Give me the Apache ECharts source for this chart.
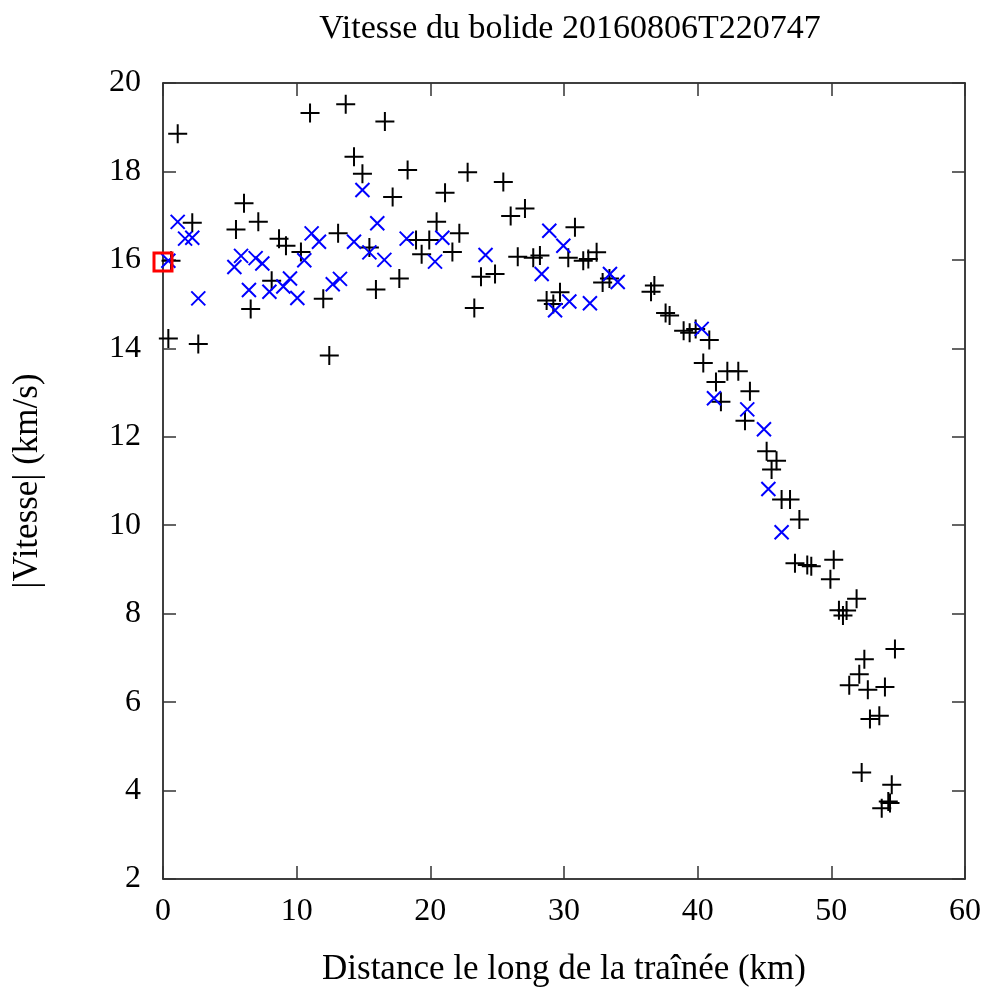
<!DOCTYPE html>
<html>
<head>
<meta charset="utf-8">
<script src="https://cdn.jsdelivr.net/npm/echarts@6/dist/echarts.min.js"></script>
<style>
html,body{margin:0;padding:0;background:#fff;}
#chart{width:984px;height:992px;}
</style>
</head>
<body>
<div id="chart"></div>
<script>
const titleText = "Vitesse du bolide 20160806T220747";
const xName = "Distance le long de la traînée (km)";
const yName = "|Vitesse| (km/s)";
const xTicks = [0, 10, 20, 30, 40, 50, 60];
const yTicks = [2, 4, 6, 8, 10, 12, 14, 16, 18, 20];

// black "+" points [distance km, speed km/s]
const plusPoints = [
  [1.10,18.85],[2.19,16.84],[0.40,14.22],[2.64,14.10],[0.60,15.98],
  [6.06,17.28],[5.46,16.69],[7.13,16.86],[6.56,14.89],[8.13,15.53],[8.68,16.48],[9.20,16.32],
  [10.32,16.18],[13.10,16.60],[11.99,15.12],[12.44,13.84],[11.00,19.32],[13.67,19.52],[14.29,18.33],[14.92,17.95],
  [16.60,19.13],[18.30,18.03],[17.18,17.42],[22.79,17.98],[25.46,17.76],[21.10,17.52],[27.08,17.16],[26.01,16.99],
  [20.47,16.86],[15.44,16.28],[18.93,16.45],[19.92,16.45],[22.17,16.60],[19.35,16.13],[21.65,16.18],[17.68,15.58],
  [15.93,15.33],[23.79,15.62],[24.84,15.68],[26.54,16.07],[23.29,14.91],
  [30.82,16.74],[27.70,16.05],[28.20,16.10],[30.32,16.05],[31.44,15.98],[31.82,16.02],[32.44,16.17],[33.40,15.58],
  [32.89,15.49],[29.70,15.27],[28.70,15.08],[29.20,15.00],
  [36.76,15.42],[36.51,15.28],[37.60,14.80],[37.90,14.74],[38.95,14.40],[39.40,14.35],[39.85,14.44],[40.87,14.19],
  [40.42,13.67],[42.22,13.48],[43.04,13.48],[41.37,13.24],[43.91,13.03],[41.74,12.79],[43.54,12.36],[45.16,11.67],
  [45.90,11.46],[45.53,11.26],[46.28,10.58],[46.91,10.58],[47.61,10.13],[47.28,9.14],[48.20,9.10],[48.50,9.07],
  [50.18,9.22],[49.93,8.78],
  [51.89,8.34],[50.57,8.08],[50.87,7.96],[51.14,8.07],[54.76,7.20],[52.47,6.97],[52.09,6.63],[51.34,6.38],
  [52.73,6.28],[54.01,6.34],[52.89,5.62],[53.59,5.69],[52.27,4.41],[54.52,4.13],[54.26,3.75],[53.77,3.60],[54.39,3.72]
];

// blue "x" points
const crossPoints = [
  [1.10,16.86],[1.65,16.48],[2.19,16.50],[2.64,15.13],[0.40,15.98],[5.84,16.09],[5.34,15.84],[6.43,15.32],
  [6.93,16.04],[7.43,15.92],[7.96,15.28],[9.00,15.40],[9.50,15.58],[10.05,15.14],[10.57,15.99],[11.12,16.60],
  [11.67,16.41],[12.70,15.45],[13.24,15.57],[14.92,17.58],[14.29,16.41],[15.44,16.17],[16.03,16.83],[16.56,16.00],
  [18.23,16.48],[20.90,16.50],[20.35,15.96],[24.13,16.11],[28.90,16.66],[29.95,16.32],[28.33,15.68],[29.33,14.86],
  [30.40,15.06],[31.94,15.02],[33.44,15.68],[34.02,15.50],[40.30,14.44],[41.22,12.87],[43.71,12.62],[44.96,12.17],
  [45.29,10.82],[46.28,9.84]
];

// red square point
const startPoint = [[0, 15.95]];

const FONT = "Liberation Serif";
const chart = echarts.init(document.getElementById('chart'), null, {renderer: 'canvas'});

const xMin = xTicks[0], xMax = xTicks[xTicks.length-1], xStep = xTicks[1]-xTicks[0];
const yMin = yTicks[0], yMax = yTicks[yTicks.length-1], yStep = yTicks[1]-yTicks[0];

const baseAxisX = {
  type: 'value', min: xMin, max: xMax, interval: xStep,
  splitLine: {show: false},
  axisLine: {show: true, onZero: false, lineStyle: {color: '#000', width: 1.5}},
  axisTick: {show: true, inside: true, length: 13, lineStyle: {color: '#333', width: 1.5}},
};
const baseAxisY = {
  type: 'value', min: yMin, max: yMax, interval: yStep,
  splitLine: {show: false},
  axisLine: {show: true, onZero: false, lineStyle: {color: '#000', width: 1.5}},
  axisTick: {show: true, inside: true, length: 13, lineStyle: {color: '#333', width: 1.5}},
};

chart.setOption({
  animation: false,
  backgroundColor: '#fff',
  title: {
    text: titleText, left: 565, top: 7, textAlign: 'center',
    textStyle: {fontFamily: FONT, fontSize: 34, fontWeight: 'normal', color: '#000'}
  },
  grid: {left: 163, right: 19, top: 83, bottom: 109, containLabel: false},
  xAxis: [
    Object.assign({}, baseAxisX, {
      position: 'bottom',
      name: xName, nameLocation: 'middle', nameGap: 73,
      nameTextStyle: {fontFamily: FONT, fontSize: 35, color: '#000'},
      axisLabel: {show: true, margin: 17, fontFamily: FONT, fontSize: 32, color: '#000'}
    }),
    Object.assign({}, baseAxisX, {position: 'top', axisLabel: {show: false}})
  ],
  yAxis: [
    Object.assign({}, baseAxisY, {
      position: 'left',
      name: yName, nameLocation: 'middle', nameGap: 118, nameRotate: 90,
      nameTextStyle: {fontFamily: FONT, fontSize: 35, color: '#000'},
      axisLabel: {show: true, margin: 22, fontFamily: FONT, fontSize: 32, color: '#000'}
    }),
    Object.assign({}, baseAxisY, {position: 'right', axisLabel: {show: false}})
  ],
  series: [
    {
      type: 'scatter', data: plusPoints,
      symbol: 'path://M-1,0L1,0M0,-1L0,1', symbolSize: 19,
      itemStyle: {color: 'none', borderColor: '#000', borderWidth: 2, opacity: 1},
      emphasis: {disabled: true}
    },
    {
      type: 'scatter', data: crossPoints,
      symbol: 'path://M-1,-1L1,1M-1,1L1,-1', symbolSize: 14,
      itemStyle: {color: 'none', borderColor: '#0000ff', borderWidth: 2, opacity: 1},
      emphasis: {disabled: true}
    },
    {
      type: 'scatter', data: startPoint,
      symbol: 'rect', symbolSize: 18,
      itemStyle: {color: 'none', borderColor: '#ff0000', borderWidth: 3, opacity: 1},
      emphasis: {disabled: true}
    }
  ]
});
</script>
</body>
</html>
